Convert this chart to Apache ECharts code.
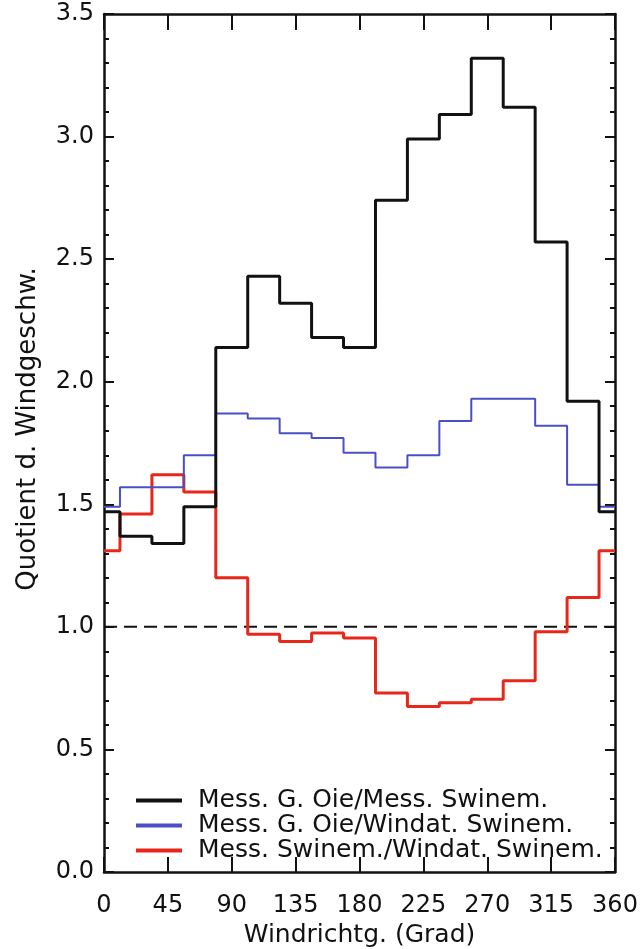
<!DOCTYPE html>
<html>
<head>
<meta charset="utf-8">
<script src="https://cdn.jsdelivr.net/npm/echarts@6/dist/echarts.min.js"></script>
<style>
  html, body { margin: 0; padding: 0; background: #fff; }
  #main { width: 643px; height: 949px; }
</style>
</head>
<body>
<div id="main"></div>
<script>
// wind direction bins (centre, degrees); the N bin is repeated at 360
const directions = [0, 22.5, 45, 67.5, 90, 112.5, 135, 157.5, 180, 202.5, 225, 247.5, 270, 292.5, 315, 337.5, 360]
const xTicks = [0, 45, 90, 135, 180, 225, 270, 315, 360]
const yTicks = [0.0, 0.5, 1.0, 1.5, 2.0, 2.5, 3.0, 3.5]

const seriesNames = [
  'Mess. G. Oie/Mess. Swinem.',
  'Mess. G. Oie/Windat. Swinem.',
  'Mess. Swinem./Windat. Swinem.'
]
// quotients per bin (last value = N bin again)
const messOieMessSwin = [1.47, 1.37, 1.34, 1.49, 2.14, 2.43, 2.32, 2.18, 2.14, 2.74, 2.99, 3.09, 3.32, 3.12, 2.57, 1.92, 1.47]
const messOieWindSwin = [1.49, 1.57, 1.57, 1.70, 1.87, 1.85, 1.79, 1.77, 1.71, 1.65, 1.70, 1.84, 1.93, 1.93, 1.82, 1.58, 1.49]
const messSwinWindSwin = [1.31, 1.46, 1.62, 1.55, 1.20, 0.97, 0.94, 0.975, 0.955, 0.73, 0.675, 0.69, 0.705, 0.78, 0.98, 1.12, 1.31]
const refLine = [1.0, 1.0]

const colors = ['#111111', '#4a50c4', '#e8261a']
const font = 'DejaVu Sans'

function pairs(ys) {
  return directions.map((d, i) => [d, ys[i]])
}

const chart = echarts.init(document.getElementById('main'))

const frameAxis = {
  axisLine: { show: true, onZero: false, lineStyle: { color: '#111', width: 2.5 } },
  splitLine: { show: false }
}

const option = {
  backgroundColor: '#fff',
  animation: false,
  grid: { left: 104, right: 28, top: 14, bottom: 77, containLabel: false, outerBoundsMode: 'none' },
  legend: {
    data: seriesNames,
    orient: 'vertical',
    left: 131,
    top: 783,
    itemWidth: 46,
    itemHeight: 4,
    itemGap: 0,
    icon: 'rect',
    textStyle: { fontFamily: font, fontSize: 25, lineHeight: 24, color: '#111', padding: [0, 0, 0, 11] }
  },
  xAxis: [
    Object.assign({}, frameAxis, {
      type: 'value', min: 0, max: 360, interval: 45, position: 'bottom',
      axisTick: { show: true, inside: true, length: 15, lineStyle: { color: '#111', width: 2 } },
      axisLabel: { fontFamily: font, fontSize: 24, color: '#111', margin: 22,
        formatter: v => xTicks.indexOf(v) >= 0 ? String(v) : '' },
      name: 'Windrichtg. (Grad)', nameLocation: 'middle', nameGap: 51,
      nameTextStyle: { fontFamily: font, fontSize: 25, color: '#111' }
    }),
    Object.assign({}, frameAxis, {
      type: 'value', min: 0, max: 360, interval: 45, position: 'top',
      axisTick: { show: true, inside: true, length: 16, lineStyle: { color: '#111', width: 2 } },
      axisLabel: { show: false }
    })
  ],
  yAxis: [
    Object.assign({}, frameAxis, {
      type: 'value', min: 0, max: 3.5, interval: 0.5, position: 'left',
      axisTick: { show: true, inside: true, length: 10, lineStyle: { color: '#111', width: 2 } },
      minorTick: { show: true, splitNumber: 5, length: 5, lineStyle: { color: '#111', width: 2 } },
      axisLabel: { fontFamily: font, fontSize: 24, color: '#111', margin: 10,
        formatter: v => yTicks.indexOf(v) >= 0 ? v.toFixed(1) : '' },
      name: 'Quotient d. Windgeschw.', nameLocation: 'middle', nameGap: 63,
      nameTextStyle: { fontFamily: font, fontSize: 26, color: '#111', padding: [0, 0, 0, 28] }
    }),
    Object.assign({}, frameAxis, {
      type: 'value', min: 0, max: 3.5, interval: 0.5, position: 'right',
      axisTick: { show: true, inside: true, length: 10, lineStyle: { color: '#111', width: 2 } },
      minorTick: { show: true, splitNumber: 5, length: 5, lineStyle: { color: '#111', width: 2 } },
      axisLabel: { show: false }
    })
  ],
  series: [
    {
      name: 'ref', type: 'line', data: [[0, refLine[0]], [360, refLine[1]]],
      symbol: 'none', silent: true, z: 1,
      lineStyle: { color: '#111', width: 2, type: [13, 7] }
    },
    {
      name: seriesNames[2], type: 'line', step: 'middle', data: pairs(messSwinWindSwin),
      symbol: 'none', color: colors[2], lineStyle: { color: colors[2], width: 3 }, z: 2
    },
    {
      name: seriesNames[1], type: 'line', step: 'middle', data: pairs(messOieWindSwin),
      symbol: 'none', color: colors[1], lineStyle: { color: colors[1], width: 2 }, z: 3
    },
    {
      name: seriesNames[0], type: 'line', step: 'middle', data: pairs(messOieMessSwin),
      symbol: 'none', color: colors[0], lineStyle: { color: colors[0], width: 3 }, z: 4
    }
  ]
}

chart.setOption(option)
</script>
</body>
</html>
